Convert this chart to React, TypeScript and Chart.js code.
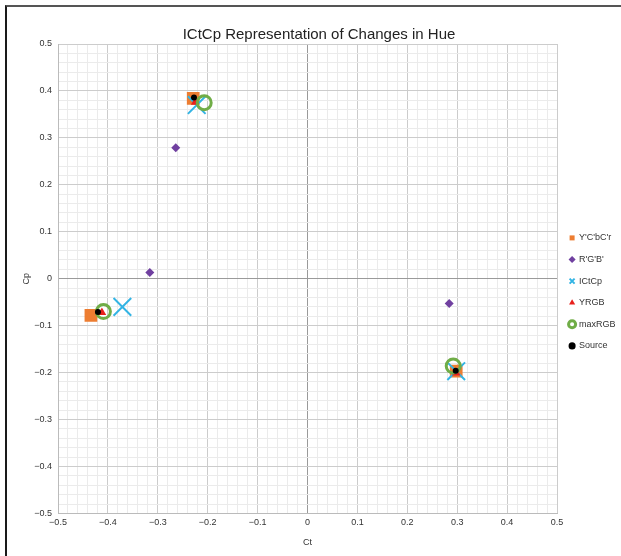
import React, { useEffect, useRef } from "react";
import { Chart, registerables } from "chart.js";

Chart.register(...registerables);

const seriesNames = ["Y'C'bC'r", "R'G'B'", "ICtCp", "YRGB", "maxRGB", "Source"];

const ycbcrX = [-0.434, -0.229, 0.298];
const ycbcrY = [-0.078, 0.384, -0.197];
const rgbX = [-0.316, -0.264, 0.284];
const rgbY = [0.013, 0.279, -0.053];
const ictcpX = [-0.371, -0.222, 0.298];
const ictcpY = [-0.06, 0.37, -0.197];
const yrgbX = [-0.412, -0.225, 0.298];
const yrgbY = [-0.072, 0.376, -0.201];
const maxrgbX = [-0.409, -0.207, 0.292];
const maxrgbY = [-0.07, 0.375, -0.186];
const sourceX = [-0.42, -0.2275, 0.297];
const sourceY = [-0.071, 0.386, -0.196];

const axisMin = -0.5;
const axisMax = 0.5;
const minorStep = 0.02;

const pts = (xs: number[], ys: number[]) => xs.map((x, i) => ({ x, y: ys[i] }));

const fmt = (v: number) => {
  const r = Math.round(v * 10) / 10;
  if (r === 0) return "0";
  return (r < 0 ? "\u2212" : "") + Math.abs(r).toFixed(1);
};

const isMajor = (v: number) => Math.abs(Math.round(v * 50)) % 5 === 0;

export default function App() {
  const ref = useRef<HTMLCanvasElement | null>(null);
  useEffect(() => {
    if (!ref.current) return;
    const font = "'Liberation Sans', Arial, Helvetica, sans-serif";
    const gridColor = (ctx: any) => {
      const v = ctx.tick ? ctx.tick.value : 0;
      if (Math.abs(v) < 1e-9) return "#9a9a9a";
      return isMajor(v) ? "#cccccc" : "#ebebeb";
    };
    const scaleCommon = (title: string) => ({
      type: "linear" as const,
      min: axisMin,
      max: axisMax,
      ticks: {
        stepSize: minorStep,
        autoSkip: false,
        maxRotation: 0,
        color: "#333",
        font: { family: font, size: 9 },
        callback: (v: any) => (isMajor(Number(v)) ? fmt(Number(v)) : ""),
      },
      grid: { color: gridColor, drawTicks: false, lineWidth: 1 },
      border: { color: "#bbbbbb" },
      title: { display: true, text: title, color: "#333", font: { family: font, size: 9 } },
    });
    const chart = new Chart(ref.current, {
      type: "scatter",
      data: {
        datasets: [
          {
            label: seriesNames[0],
            data: pts(ycbcrX, ycbcrY),
            pointStyle: "rect",
            pointRadius: 9,
            backgroundColor: "#ed7d31",
            borderColor: "#ed7d31",
            borderWidth: 0,
            order: 5,
          },
          {
            label: seriesNames[1],
            data: pts(rgbX, rgbY),
            pointStyle: "rectRot",
            pointRadius: 4.5,
            backgroundColor: "#7040a0",
            borderColor: "#7040a0",
            borderWidth: 0,
            order: 4,
          },
          {
            label: seriesNames[2],
            data: pts(ictcpX, ictcpY),
            pointStyle: "crossRot",
            pointRadius: 12.5,
            backgroundColor: "#33b4e4",
            borderColor: "#33b4e4",
            borderWidth: 2,
            order: 3,
          },
          {
            label: seriesNames[3],
            data: pts(yrgbX, yrgbY),
            pointStyle: "triangle",
            pointRadius: 5,
            backgroundColor: "#e8201c",
            borderColor: "#e8201c",
            borderWidth: 0,
            order: 2,
          },
          {
            label: seriesNames[4],
            data: pts(maxrgbX, maxrgbY),
            pointStyle: "circle",
            pointRadius: 7,
            backgroundColor: "rgba(0,0,0,0)",
            borderColor: "#70ad47",
            borderWidth: 3,
            order: 1,
          },
          {
            label: seriesNames[5],
            data: pts(sourceX, sourceY),
            pointStyle: "circle",
            pointRadius: 3,
            backgroundColor: "#000000",
            borderColor: "#000000",
            borderWidth: 0,
            order: 0,
          },
        ],
      },
      options: {
        animation: false,
        responsive: false,
        maintainAspectRatio: false,
        layout: { padding: { left: 10, bottom: 4, top: 0, right: 0 } },
        plugins: {
          title: {
            display: true,
            text: "ICtCp Representation of Changes in Hue",
            color: "#222",
            font: { family: font, size: 15, weight: "normal" },
            padding: { top: 19, bottom: 0 },
          },
          legend: {
            position: "right",
            maxWidth: 64,
            title: { display: true, text: " ", padding: 7, font: { family: font, size: 9 } },
            labels: {
              usePointStyle: true,
              boxWidth: 5,
              boxHeight: 5,
              padding: 12.6,
              color: "#333",
              font: { family: font, size: 9 },
              sort: (a: any, b: any) => a.datasetIndex - b.datasetIndex,
            },
          },
          tooltip: { enabled: false },
        },
        scales: {
          x: {
            ...scaleCommon("Ct"),
            ticks: { ...scaleCommon("Ct").ticks, padding: 4 },
            title: { ...scaleCommon("Ct").title, padding: { top: 5, bottom: 4 } },
          },
          y: {
            ...scaleCommon("Cp"),
            ticks: { ...scaleCommon("Cp").ticks, padding: 6 },
            title: { ...scaleCommon("Cp").title, padding: { top: 4, bottom: 4 } },
            afterFit: (s: any) => {
              s.width = 41;
            },
          },
        },
      },
    } as any);
    return () => chart.destroy();
  }, []);
  return (
    <div
      style={{
        position: "fixed",
        left: 5,
        top: 5,
        width: 616,
        height: 551,
        borderTop: "2px solid #555",
        borderLeft: "2px solid #1a1a1a",
        background: "#fff",
      }}
    >
      <canvas ref={ref} width={614} height={549} style={{ display: "block" }} />
    </div>
  );
}
